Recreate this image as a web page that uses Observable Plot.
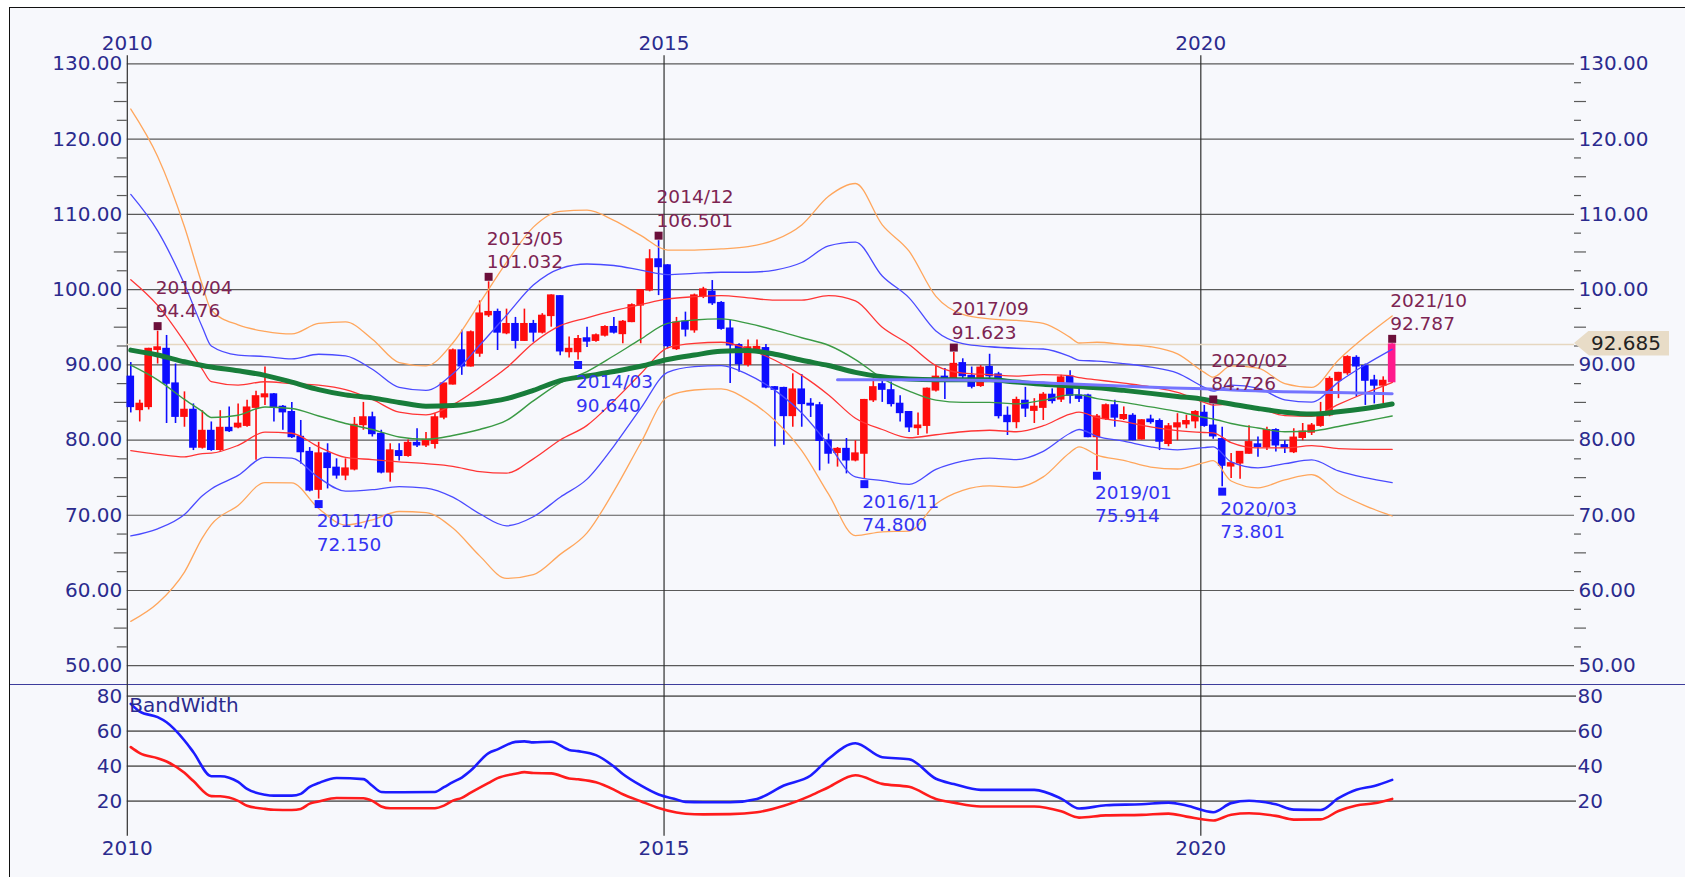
<!DOCTYPE html>
<html>
<head>
<meta charset="utf-8">
<script src="https://cdn.jsdelivr.net/npm/d3@7"></script>
<script src="https://cdn.jsdelivr.net/npm/@observablehq/plot@0.6"></script>
<style>
  html, body { margin:0; padding:0; background:#ffffff; }
  #wrap { position:relative; width:1685px; height:877px; overflow:hidden; background:#ffffff; font-family:"DejaVu Sans", Verdana, sans-serif; }
  #panel { position:absolute; left:9px; top:7px; right:-6px; bottom:-6px; background:#f7f8fc; border-left:1.5px solid #111; border-top:1.5px solid #111; }
  #sep { position:absolute; left:10px; right:0; top:683.5px; height:0; border-top:1.5px solid #3d3d9c; }
  #top, #bottom { position:absolute; left:0; }
  #top { top:0; }
  #bottom { top:684px; }
  #top svg, #bottom svg { display:block; overflow:visible; }
  #tag { position:absolute; height:25px; line-height:25px; width:95px; background:#e8dcc7; color:#222; font-size:20px; box-sizing:border-box; padding-left:17px; clip-path:polygon(0 50%, 15px 0, 100% 0, 100% 100%, 15px 100%); font-family:"DejaVu Sans", Verdana, sans-serif; }
</style>
</head>
<body>
<div id="wrap">
  <div id="panel"></div>
  <div id="top"></div>
  <div id="sep"></div>
  <div id="bottom"></div>
  <div id="tag"></div>
</div>
<script>
// ---------------- DATA ----------------
// Monthly candles from 2010/01 to 2021/10
const startYear = 2010;
const open = [88.4,84.0,84.4,92.0,92.1,87.5,83.1,84.0,79.0,81.2,
78.7,81.6,81.7,81.9,84.3,85.7,86.05,84.4,83.7,80.4,
78.4,73.4,78.2,76.3,75.3,76.1,82.0,83.0,80.8,75.7,
78.5,77.9,79.6,79.3,79.5,83.0,87.4,91.9,89.8,91.5,
96.6,97.0,94.2,95.4,93.2,95.4,94.3,96.5,99.1,91.7,
91.7,93.5,93.2,93.9,95.0,94.1,95.7,97.9,99.9,104.0,
103.2,92.1,95.7,94.6,99.1,99.7,98.2,94.8,92.6,90.0,
92.1,92.2,87.0,86.9,83.2,86.7,84.8,84.6,79.9,78.3,
78.8,77.3,78.2,85.3,87.4,86.6,84.8,83.7,81.6,81.9,
86.6,88.4,88.2,90.2,88.5,87.2,89.7,88.7,83.2,82.4,
85.2,83.9,84.3,86.0,85.4,88.4,85.9,85.9,80.4,82.8,
84.6,82.8,83.2,80.1,82.7,82.5,79.5,81.7,82.1,82.5,
83.6,81.9,80.1,76.5,76.9,78.2,79.4,79.05,81.3,79.3,
78.4,80.3,81.0,81.9,83.3,87.9,88.9,90.9,89.8,87.9,
87.25,87.7];
const high = [90.3,85.3,92.2,94.476,93.9,90.1,86.4,84.8,83.9,82.4,
83.9,84.4,84.8,85.3,86.5,89.7,86.2,84.6,85.0,82.6,
79.0,79.7,79.5,77.5,77.5,83.0,85.0,83.7,81.3,79.5,
79.5,80.0,81.5,81.0,83.5,87.5,92.1,94.6,94.5,98.5,
101.032,97.4,97.4,96.3,97.4,95.9,96.8,99.3,99.2,93.7,
93.9,95.0,94.1,95.2,96.3,95.9,98.1,100.0,105.3,106.501,
103.3,96.3,97.0,99.4,100.3,101.2,98.4,95.9,92.8,93.3,
93.3,92.7,87.1,87.0,88.8,88.7,85.5,85.0,80.8,79.0,
80.2,79.9,85.4,88.1,88.1,87.7,85.9,83.8,83.6,86.9,
89.9,89.5,91.623,90.8,89.7,89.9,91.4,89.0,84.4,85.7,
87.0,85.5,86.3,86.8,88.6,89.2,87.0,86.1,83.4,84.8,
85.3,84.4,83.5,82.7,83.3,82.8,82.2,83.5,83.3,83.9,
84.6,84.726,81.7,78.2,78.4,81.9,80.4,81.7,81.5,79.9,
81.5,82.2,82.2,85.0,88.4,89.0,91.2,91.2,90.1,88.6,
88.4,92.787];
const low = [83.6,82.4,84.0,90.1,82.2,82.2,81.7,78.6,78.8,78.5,
78.5,81.0,81.5,81.7,77.3,84.6,82.4,81.3,80.2,76.8,
73.1,72.15,73.5,74.8,74.6,75.9,81.3,80.4,75.5,74.4,
77.2,77.7,79.0,79.0,78.8,82.7,87.3,88.6,89.7,91.0,
96.3,91.9,94.0,92.1,93.1,93.0,94.1,95.0,91.2,90.9,
90.64,92.3,93.0,93.7,94.1,92.8,95.6,92.8,99.7,99.2,
92.1,91.9,93.7,94.2,98.8,97.9,94.6,87.5,89.0,89.7,
91.9,86.8,79.1,79.3,81.7,81.7,83.0,75.9,76.8,76.4,
75.5,77.1,74.8,85.0,85.0,84.4,82.4,81.0,80.6,80.8,
86.4,85.4,87.9,87.8,86.8,87.0,88.1,82.8,80.6,81.5,
83.0,82.2,82.6,84.8,85.0,84.8,85.0,80.3,75.914,82.6,
81.7,82.6,79.9,80.0,82.1,78.6,79.1,79.9,81.5,81.5,
81.7,80.1,73.801,74.9,74.8,78.1,77.7,78.6,78.4,78.2,
78.2,79.9,80.6,81.7,83.1,85.5,88.6,85.7,84.6,84.8,
84.8,87.5];
const close = [84.4,84.8,92.1,92.3,87.5,83.1,84.0,79.0,81.2,78.7,
81.6,81.2,82.15,84.3,85.8,86.05,84.4,83.7,80.4,78.4,
73.3,78.2,76.3,75.3,76.2,82.0,83.0,80.8,75.7,78.6,
77.9,79.6,79.3,80.0,83.0,87.5,91.9,89.8,94.3,96.8,
97.0,94.3,95.4,93.2,95.4,94.3,96.5,99.2,91.8,92.1,
93.4,93.1,93.9,95.0,94.3,95.7,97.9,99.9,104.0,103.0,
92.5,95.6,94.7,99.2,100.0,98.2,94.8,92.6,90.1,92.3,
92.35,87.0,86.7,83.2,86.7,84.8,84.6,79.9,78.2,78.8,
77.3,78.2,85.3,87.0,86.7,84.8,83.6,81.7,81.9,86.8,
88.4,87.8,90.1,88.5,87.1,89.6,88.5,83.2,82.4,85.3,
84.2,84.4,86.0,85.2,88.3,85.9,85.5,80.4,83.1,84.6,
83.0,83.3,80.0,82.6,82.4,79.8,81.8,82.2,82.5,83.7,
81.9,80.5,76.6,76.9,78.4,79.7,79.1,81.3,79.3,79.0,
80.3,81.1,81.9,83.3,88.1,88.9,91.0,89.8,87.9,87.25,
87.85,92.685];

// Bollinger bands (read at these month indexes from 2010/01)
const bandIdx = [0,3,6,8,9,12,15,18,21,24,27,30,33,36,39,42,45,48,51,54,57,60,63,66,69,72,75,78,81,84,87,90,93,96,99,102,105,106,108,111,114,117,120,121,123,126,129,132,135,138,141];
const midLine = [89.95,88.0,85.4,83.8,83.0, 83.3,84.4,84.2,83.2,82.2, 81.4,80.4,80.1,80.6,81.4, 82.6,85.2,87.6,89.1,91.2, 93.4,95.5,95.95,96.1,95.5, 94.6,93.6,92.6,90.7,88.2, 86.5,85.3,85.0,85.0,84.8, 85.3,86.0,86.0,85.5,85.0, 84.4,83.8,83.0,82.8,82.2, 81.6,81.1,81.2,81.8,82.5, 83.2];
const up1 = [101.3,97.9,93.05,89.4,87.75, 87.3,87.75,87.5,87.3,86.7, 85.4,83.7,83.35,84.7,87.0, 89.6,92.9,95.2,96.25,97.2, 98.0,98.75,99.05,99.2,98.9, 98.6,98.6,99.2,98.5,95.0, 92.7,89.9,88.9,88.7,88.5, 88.7,88.55,88.3,88.0,87.55, 87.05,86.35,85.0,84.65,84.75, 84.25,83.25,83.15,84.75,86.25, 87.65];
const up2 = [112.65,107.8,100.7,95.0,92.5, 91.3,91.1,90.8,91.4,91.2, 89.4,87.0,86.6,88.8,92.6, 96.6,100.6,102.8,103.4,103.2, 102.6,102.0,102.15,102.3,102.3, 102.6,103.6,105.8,106.3,101.8, 98.9,94.5,92.8,92.4,92.2, 92.1,91.1,90.6,90.5,90.15, 89.7,88.9,87.0,86.5,87.3, 86.9,85.35,85.05,87.7,90.0, 92.05];
const up3 = [124.0,117.7,108.35,100.6,97.25, 95.3,94.45,94.1,95.5,95.7, 93.4,90.3,89.85,92.9,98.2, 103.6,108.3,110.4,110.55,109.2, 107.2,105.25,105.25,105.4,105.7, 106.6,108.6,112.4,114.1,108.6, 105.1,99.1,96.7,96.1,95.9, 95.5,93.65,92.9,93.0,92.7, 92.4,91.45,89.0,88.35,89.85, 89.55,87.5,87.0,90.65,93.75, 96.5];
const lo1 = [78.6,78.1,77.75,78.2,78.25, 79.3,81.05,80.9,79.1,77.7, 77.4,77.1,76.85,76.5,75.8, 75.6,77.5,80.0,81.95,85.2, 88.8,92.25,92.85,93.0,92.1, 90.6,88.6,86.0,82.9,81.4, 80.3,80.7,81.1,81.3,81.1, 81.9,83.45,83.7,83.0,82.45, 81.75,81.25,81.0,80.95,79.65, 78.95,78.95,79.25,78.85,78.75, 78.75];
const lo2 = [67.25,68.2,70.1,72.6,73.5, 75.3,77.7,77.6,75.0,73.2, 73.4,73.8,73.6,72.4,70.2, 68.6,69.8,72.4,74.8,79.2, 84.2,89.0,89.75,89.9,88.7, 86.6,83.6,79.4,75.1,74.6, 74.1,76.1,77.2,77.6,77.4, 78.5,80.9,81.4,80.5,79.85, 79.1,78.7,79.0,79.1,77.1, 76.3,76.85,77.35,75.9,75.0, 74.35];
const lo3 = [55.9,58.3,62.45,67.0,68.75, 71.3,74.35,74.3,70.9,68.7, 69.4,70.5,70.35,68.3,64.6, 61.6,62.1,64.8,67.65,73.2, 79.6,85.75,86.65,86.8,85.3, 82.6,78.6,72.8,67.3,67.8, 67.9,71.5,73.3,73.9,73.7, 75.1,78.35,79.1,78.0,77.3, 76.4,76.15,77.0,77.25,74.55, 73.65,74.7,75.4,72.95,71.25, 69.9];
const longMA = [91.95,91.3,90.4,89.9,89.7, 89.2,88.6,87.7,86.7,86.0, 85.6,85.0,84.5,84.6,84.9, 85.5,86.6,87.9,88.5,89.1, 89.8,90.7,91.3,91.8,91.9, 91.4,90.6,89.9,89.0,88.4, 88.1,88.0,88.0,88.0,87.7, 87.4,87.2,87.1,86.95,86.6, 86.2,85.8,85.4,85.2,84.8, 84.2,83.7,83.45,83.75,84.2, 84.8];

// Purple line (starts 2016/08)
const purpleIdx = [79,88,96,104,112,120,128,136,141];
const purpleVal = [88.0,88.0,87.9,87.5,87.1,86.8,86.45,86.3,86.15];

// BandWidth panel
const bwIdx = [0,1,3,4,6,7,9,10,12,13,15,16,18,19,20,21,23,26,27,28,29,34,35,36,37,38,40,41,43,44,45,47,49,50,52,54,55,57,59,61,62,64,67,70,73,76,78,81,84,87,90,92,95,101,104,106,109,113,116,118,121,123,125,128,130,133,135,137,139,141];
const bwRed = [50.9,47.5,44.6,42.7,36.2,31.5,22.9,22.8,20.2,17.4, 15.6,15.1,15.0,15.6,18.6,19.8,21.8,21.7,20.2,17.0, 16.0,16.0,17.5,20.3,21.9,24.9,30.5,33.2,35.7,36.6, 36.1,35.9,33.0,32.5,30.8,26.6,24.0,20.0,16.1,13.5, 12.8,12.5,12.6,13.7,17.4,23.2,28.0,34.8,29.9,28.2, 21.3,19.2,17.0,17.0,14.2,10.6,11.9,12.2,12.9,11.2, 9.0,12.3,13.1,11.6,9.5,9.6,14.4,17.6,18.8,21.3];
const bwBlue = [75.6,71.2,68.0,65.1,54.7,48.0,34.3,34.3,31.0,27.0, 23.7,23.2,23.2,24.2,28.2,30.4,33.3,32.6,28.8,25.3, 25.1,25.3,28.0,30.9,33.5,37.5,47.5,49.6,53.9,54.2, 53.6,54.0,49.3,48.6,46.3,39.8,35.5,29.0,23.8,21.0, 19.6,19.4,19.4,21.3,29.0,34.7,44.2,53.1,45.1,44.0, 32.8,29.8,26.5,26.5,21.5,15.8,17.7,18.3,19.2,17.5, 13.7,18.9,20.3,18.2,15.2,15.0,21.7,26.5,28.7,32.2];

// Annotations
const highDates = ["2010/04","2013/05","2014/12","2017/09","2020/02","2021/10"];
const highVals = [94.476,101.032,106.501,91.623,84.726,92.787];
const lowDates = ["2011/10","2014/03","2016/11","2019/01","2020/03"];
const lowVals = [72.150,90.640,74.800,75.914,73.801];

// Tick labels
const priceTicks = [50,60,70,80,90,100,110,120,130];
const bwTicks = [20,40,60,80];
const yearTicks = [2010,2015,2020];

// ---------------- CHART ----------------
const X0 = 2010, X1 = 2023.481;
const XR = [126.8, 1574];
const PPY = (XR[1] - XR[0]) / (X1 - X0);
const mX = m => startYear + (m + 0.39) / 12;
const monthOf = s => { const [y, m] = s.split("/").map(Number); return (y - startYear) * 12 + (m - 1); };
const HALF = 3.8 / PPY;

const RED = "#ff0d0d", BLUE = "#0d0dff", PINK = "#ff1a8c";
const GRID = "#5a5a5a", AXT = "#2b2b8e", FONT = "DejaVu Sans";
const last = close.length - 1;

const candles = open.map((o, i) => ({
  x: mX(i), o, h: high[i], l: low[i], c: close[i],
  col: i === last ? PINK : (close[i] >= o ? RED : BLUE)
}));
const bands = bandIdx.map((m, i) => ({x: mX(m), mid: midLine[i], u1: up1[i], u2: up2[i], u3: up3[i], l1: lo1[i], l2: lo2[i], l3: lo3[i], ma: longMA[i]}));
const purple = purpleIdx.map((m, i) => ({x: mX(m), v: purpleVal[i]}));
const bw = bwIdx.map((m, i) => ({x: mX(m), red: bwRed[i], blue: bwBlue[i]}));
const highs = highDates.map((d, i) => ({x: mX(monthOf(d)), v: highVals[i], t: d + "\n" + highVals[i].toFixed(3)}));
const lows = lowDates.map((d, i) => ({x: mX(monthOf(d)), v: lowVals[i], t: d + "\n" + lowVals[i].toFixed(3)}));
const minor = d3.range(52.5, 130, 2.5).filter(v => v % 10 !== 0);

const lineOpt = (y, stroke, w) => ({x: "x", y, stroke, strokeWidth: w, curve: "monotone-x"});

const topPlot = Plot.plot({
  width: 1685, height: 684,
  marginTop: 0, marginRight: 0, marginBottom: 0, marginLeft: 0,
  x: {domain: [X0, X1], range: XR, axis: null},
  y: {domain: [50, 130], range: [665.2, 63.4], axis: null},
  color: {type: "identity"},
  style: {background: "transparent", fontFamily: FONT, overflow: "visible"},
  marks: [
    Plot.ruleY(priceTicks, {x1: X0, x2: X1, stroke: GRID, strokeWidth: 1.2}),
    Plot.ruleX(yearTicks, {y1: 47.5, y2: 131.1, stroke: "#2e2e2e", strokeWidth: 1.2}),
    Plot.ruleY(minor, {x1: d => X0 - (d % 5 === 0 ? 13 : 10) / PPY, x2: X0, stroke: GRID, strokeWidth: 1.2}),
    Plot.ruleY(minor, {x1: X1, x2: d => X1 + (d % 5 === 0 ? 12 : 7) / PPY, stroke: GRID, strokeWidth: 1.2}),
    Plot.ruleY([close[last]], {x1: X0, x2: X1, stroke: "#e6d7c0", strokeWidth: 1.5}),
    // candles
    Plot.ruleX(candles, {x: "x", y1: "l", y2: "h", stroke: "col", strokeWidth: 1.6}),
    Plot.rect(candles, {x1: d => d.x - HALF, x2: d => d.x + HALF, y1: "o", y2: "c", fill: "col", insetTop: -0.7, insetBottom: -0.7}),
    // bands
    Plot.line(bands, lineOpt("u3", "#ffa65c", 1.3)),
    Plot.line(bands, lineOpt("l3", "#ffa65c", 1.3)),
    Plot.line(bands, lineOpt("u2", "#4a4aff", 1.3)),
    Plot.line(bands, lineOpt("l2", "#4a4aff", 1.3)),
    Plot.line(bands, lineOpt("u1", "#ff3535", 1.3)),
    Plot.line(bands, lineOpt("l1", "#ff3535", 1.3)),
    Plot.line(bands, lineOpt("mid", "#3a9a44", 1.4)),
    Plot.line(bands, lineOpt("ma", "#187d3a", 5)),
    Plot.line(purple, {x: "x", y: "v", stroke: "#7474ff", strokeWidth: 3, curve: "monotone-x"}),
    // high / low markers
    Plot.dot(highs, {x: "x", y: "v", symbol: "square", r: 4.5, fill: "#6b0f3a", dy: -5}),
    Plot.dot(lows, {x: "x", y: "v", symbol: "square", r: 4.5, fill: "#1717ff", dy: 5}),
    Plot.text(highs, {x: "x", y: "v", text: "t", textAnchor: "start", lineAnchor: "bottom", lineHeight: 1.26, dx: -2, dy: -14, fontSize: 18.5, fill: "#7d2452", fontFamily: FONT}),
    Plot.text(lows, {x: "x", y: "v", text: "t", textAnchor: "start", lineAnchor: "bottom", lineHeight: 1.26, dx: -2, dy: 51.7, fontSize: 18.5, fill: "#3434f2", fontFamily: FONT}),
    // axis labels
    Plot.text(priceTicks, {x: X0, y: d => d, text: d => d.toFixed(2), textAnchor: "end", dx: -5, fontSize: 20, fill: AXT, fontFamily: FONT}),
    Plot.text(priceTicks, {x: X1, y: d => d, text: d => d.toFixed(2), textAnchor: "start", dx: 4, fontSize: 20, fill: AXT, fontFamily: FONT}),
    Plot.text(yearTicks, {x: d => d, y: 130, text: d => String(d), dy: -20, fontSize: 20, fill: AXT, fontFamily: FONT})
  ]
});
document.getElementById("top").appendChild(topPlot);

const botPlot = Plot.plot({
  width: 1685, height: 193,
  marginTop: 0, marginRight: 0, marginBottom: 0, marginLeft: 0,
  x: {domain: [X0, X1], range: XR, axis: null},
  y: {domain: [0, 80], range: [151.7, 11.7], axis: null},
  style: {background: "transparent", fontFamily: FONT, overflow: "visible"},
  marks: [
    Plot.ruleY(bwTicks, {x1: X0, x2: X1 + 2 / PPY, stroke: "#6e6e6e", strokeWidth: 1.8}),
    Plot.ruleX(yearTicks, {y1: 0, y2: 86.7, stroke: "#2e2e2e", strokeWidth: 1.2}),
    Plot.line(bw, {x: "x", y: "blue", stroke: "#1c1cff", strokeWidth: 2.6, curve: "monotone-x"}),
    Plot.line(bw, {x: "x", y: "red", stroke: "#ff1c1c", strokeWidth: 2.6, curve: "monotone-x"}),
    Plot.text(bwTicks, {x: X0, y: d => d, text: d => String(d), textAnchor: "end", dx: -5, fontSize: 20, fill: AXT, fontFamily: FONT}),
    Plot.text(bwTicks, {x: X1, y: d => d, text: d => String(d), textAnchor: "start", dx: 3, fontSize: 20, fill: AXT, fontFamily: FONT}),
    Plot.text(["BandWidth"], {x: X0, y: 80, text: d => d, textAnchor: "start", lineAnchor: "top", dx: 2, dy: 2, fontSize: 20, fill: AXT, fontFamily: FONT}),
    Plot.text(yearTicks, {x: d => d, y: -7, text: d => String(d), fontSize: 20, fill: AXT, fontFamily: FONT})
  ]
});
document.getElementById("bottom").appendChild(botPlot);

// current price tag
const tag = document.getElementById("tag");
tag.textContent = close[last].toFixed(3);
tag.style.left = topPlot.scale("x").apply(X1) + "px";
tag.style.top = (topPlot.scale("y").apply(close[last]) - 13.5) + "px";
</script>
</body>
</html>
